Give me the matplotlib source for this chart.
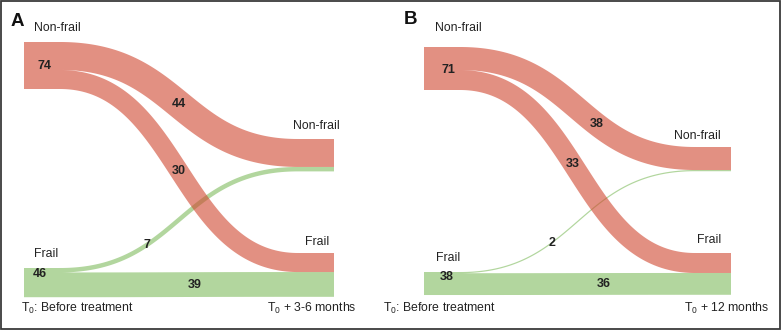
import numpy as np
import matplotlib
matplotlib.use("Agg")
import matplotlib.pyplot as plt
from matplotlib.patches import Rectangle, PathPatch
from matplotlib.path import Path

plt.rcParams['font.family'] = ['Liberation Sans', 'DejaVu Sans']
plt.rcParams['mathtext.fontset'] = 'custom'
plt.rcParams['mathtext.rm'] = 'Liberation Sans'
plt.rcParams['mathtext.it'] = 'Liberation Sans:italic'
plt.rcParams['mathtext.bf'] = 'Liberation Sans:bold'

# ---------------- data ----------------
states = ["Non-frail", "Frail"]
panel_letters = ["A", "B"]
time_labels_left = [r"T$_\mathrm{0}$: Before treatment", r"T$_\mathrm{0}$: Before treatment"]
time_labels_right = [r"T$_\mathrm{0}$ + 3-6 months", r"T$_\mathrm{0}$ + 12 months"]

# flows[from][to]
flows_A = [[44, 30],
           [7, 39]]
flows_B = [[38, 33],
           [2, 36]]
flows = [flows_A, flows_B]

# ---------------- layout (style) ----------------
W, H = 781, 330
red = (208/255, 70/255, 47/255)
green = (127/255, 187/255, 93/255)
flow_alpha = 0.6
state_colors = [red, green]

layout = [
    dict(x0=24, x1=334, nw=36, scale=47/74,
         left_tops=[42, 268], right_tops=[139, 253],
         letter=(11, 21),
         left_lab=[(34, 28), (34, 254)], right_lab=[(316, 126), (317, 242)],
         left_num=[(44, 0.51), (40, 0.2)],
         flow_frac=[[0.5, 0.5], [0.367, 0.567]],
         tl=(21, 308), tr=(356, 308)),
    dict(x0=424, x1=731, nw=36, scale=43/71,
         left_tops=[47, 272], right_tops=[147, 253],
         letter=(404, 20),
         left_lab=[(435, 28), (436, 258)], right_lab=[(697.5, 136), (709, 240)],
         left_num=[(448, 0.53), (447, 0.22)],
         flow_frac=[[0.58, 0.48], [0.39, 0.61]],
         tl=(383, 308), tr=(769, 308)),
]

fig = plt.figure(figsize=(W/100, H/100), dpi=100)
ax = fig.add_axes([0, 0, 1, 1])
ax.set_xlim(0, W)
ax.set_ylim(H, 0)
ax.axis('off')


def bezier_center(xs, xe, ys, ye, n=200):
    t = np.linspace(0, 1, n)
    xm = (xs + xe) / 2
    bx = (1-t)**3*xs + 3*(1-t)**2*t*xm + 3*(1-t)*t**2*xm + t**3*xe
    by = (1-t)**3*ys + 3*(1-t)**2*t*ys + 3*(1-t)*t**2*ye + t**3*ye
    return bx, by


def flow_polygon(x0, x1, nw, ys, ye, h):
    xs, xe = x0 + nw, x1 - nw
    bx, by = bezier_center(xs, xe, ys, ye)
    dx = np.gradient(bx)
    dy = np.gradient(by)
    L = np.hypot(dx, dy)
    nx, ny = -dy / L, dx / L
    topx, topy = bx - nx*h/2, by - ny*h/2
    botx, boty = bx + nx*h/2, by + ny*h/2
    px = np.concatenate([[x0], topx, [x1, x1], botx[::-1], [x0, x0]])
    py = np.concatenate([[ys - h/2], topy, [ye - h/2, ye + h/2], boty[::-1],
                         [ys + h/2, ys - h/2]])
    return np.column_stack([px, py]), bx, by


for p in range(2):
    L_ = layout[p]
    F = flows[p]
    s = L_['scale']
    x0, x1, nw = L_['x0'], L_['x1'], L_['nw']
    lpos, rpos = {}, {}
    for i in range(2):
        cur = L_['left_tops'][i]
        for j in range(2):
            h = F[i][j] * s
            lpos[(i, j)] = cur + h/2
            cur += h
    for j in range(2):
        cur = L_['right_tops'][j]
        for i in range(2):
            h = F[i][j] * s
            rpos[(i, j)] = cur + h/2
            cur += h
    geoms = {}
    # one compound path per source state: green first, red on top
    for i in [1, 0]:
        paths = []
        for j in range(2):
            h = F[i][j] * s
            poly, bx, by = flow_polygon(x0, x1, nw, lpos[(i, j)], rpos[(i, j)], h)
            geoms[(i, j)] = (bx, by)
            paths.append(Path(poly, closed=True))
        cp = Path.make_compound_path(*paths)
        ax.add_patch(PathPatch(cp, facecolor=state_colors[i], edgecolor='none',
                               alpha=flow_alpha))
    # flow labels
    xs, xe = x0 + nw, x1 - nw
    for i in range(2):
        for j in range(2):
            bx, by = geoms[(i, j)]
            xq = xs + L_['flow_frac'][i][j] * (xe - xs)
            yq = np.interp(xq, bx, by)
            ax.text(xq, yq, str(F[i][j]), ha='center', va='center',
                    fontsize=9, fontweight='bold', color='#222222')
    # left node totals
    for i in range(2):
        tot = sum(F[i])
        xl, fr = L_['left_num'][i]
        yl = L_['left_tops'][i] + fr * tot * s
        ax.text(xl, yl, str(tot), ha='center', va='center',
                fontsize=9, fontweight='bold', color='#222222')
    # state labels
    for i in range(2):
        xl, yl = L_['left_lab'][i]
        ax.text(xl, yl, states[i], ha='left', va='center', fontsize=8.8, color='#222222')
        xr, yr = L_['right_lab'][i]
        ax.text(xr, yr, states[i], ha='center', va='center', fontsize=8.8, color='#222222')
    # time labels
    ax.text(*L_['tl'], time_labels_left[p], ha='left', va='center', fontsize=8.8, color='#222222')
    ax.text(*L_['tr'], time_labels_right[p], ha='right', va='center', fontsize=8.8, color='#222222')
    # panel letter
    ax.text(*L_['letter'], panel_letters[p], ha='left', va='center',
            fontsize=13.5, fontweight='bold', color='#111111')

ax.add_patch(Rectangle((1, 1), W - 2.5, H - 2.5, fill=False, edgecolor='#3a3a3a',
                       linewidth=1.3, clip_on=False))

fig.savefig("out.png", dpi=100)
